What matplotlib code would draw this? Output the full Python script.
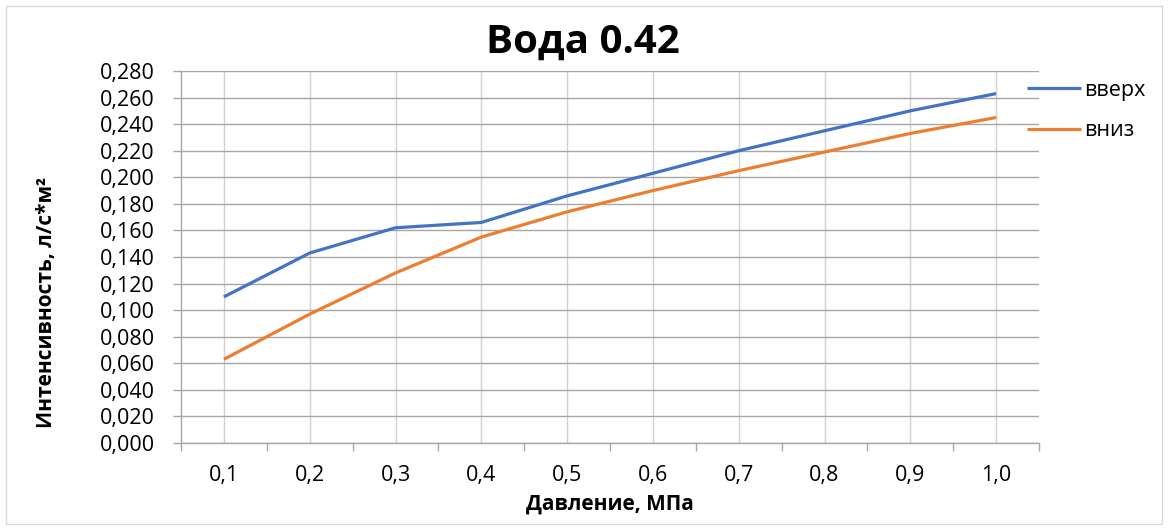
import matplotlib.pyplot as plt
from matplotlib.patches import Rectangle
from matplotlib.ticker import FixedLocator, FuncFormatter

# Data
pressure = ["0,1", "0,2", "0,3", "0,4", "0,5", "0,6", "0,7", "0,8", "0,9", "1,0"]
up = [0.110, 0.143, 0.162, 0.166, 0.186, 0.203, 0.220, 0.235, 0.250, 0.263]
down = [0.063, 0.097, 0.128, 0.155, 0.174, 0.190, 0.205, 0.219, 0.233, 0.245]
y_ticks = [i * 0.02 for i in range(15)]

BLUE = "#4472C4"
ORANGE = "#ED7D31"
FONT = ["Open Sans", "DejaVu Sans"]

plt.rcParams["font.family"] = FONT

fig = plt.figure(figsize=(11.68, 5.29), dpi=100)
ax = fig.add_axes([181 / 1168, 1 - 443 / 529, 858 / 1168, 372 / 529])

x = list(range(len(pressure)))
ax.plot(x, up, color=BLUE, linewidth=2.3, label="вверх", solid_capstyle="butt")
ax.plot(x, down, color=ORANGE, linewidth=2.3, label="вниз", solid_capstyle="butt")

ax.set_xlim(-0.5, len(pressure) - 0.5)
ax.set_ylim(0, 0.28)

ax.set_xticks(x)
ax.set_xticklabels(pressure, fontsize=15.5)
ax.xaxis.set_minor_locator(FixedLocator([i - 0.5 for i in range(len(pressure) + 1)]))
ax.tick_params(axis="x", which="major", length=0, pad=16)
ax.tick_params(axis="x", which="minor", length=5.8, color="#a6a6a6", width=1)

ax.set_yticks(y_ticks)
ax.yaxis.set_major_formatter(FuncFormatter(lambda v, p: f"{v:.3f}".replace(".", ",")))
ax.tick_params(axis="y", length=5.8, color="#a6a6a6", width=1, labelsize=15.5, pad=13)

ax.grid(axis="y", color="#a6a6a6", linewidth=1)
ax.grid(axis="x", which="major", color="#d0d0d0", linewidth=1)
ax.set_axisbelow(True)

for side in ["top", "right"]:
    ax.spines[side].set_visible(False)
for side in ["left", "bottom"]:
    ax.spines[side].set_color("#a6a6a6")
    ax.spines[side].set_linewidth(1)

fig.text(583 / 1168, 1 - 42 / 529, "Вода 0.42", fontsize=29, fontweight="bold",
         ha="center", va="center")
fig.text(610 / 1168, 1 - 504 / 529, "Давление, МПа", fontsize=15, fontweight="bold",
         ha="center", va="center")
fig.text(47 / 1168, 1 - 303 / 529, "Интенсивность, л/с*м²", fontsize=15,
         fontweight="bold", ha="center", va="center", rotation=90)

fig.legend(loc="upper left", bbox_to_anchor=(1027 / 1168, 1 - 80 / 529),
           frameon=False, fontsize=15.5, handlelength=2.5, handletextpad=0.15,
           labelspacing=0.9, borderpad=0, borderaxespad=0)

fig.patches.append(Rectangle((6 / 1168, 5 / 529), 1156 / 1168, 518 / 529,
                             transform=fig.transFigure, fill=False,
                             edgecolor="#d9d9d9", linewidth=1))

fig.savefig("out.png", dpi=100)
